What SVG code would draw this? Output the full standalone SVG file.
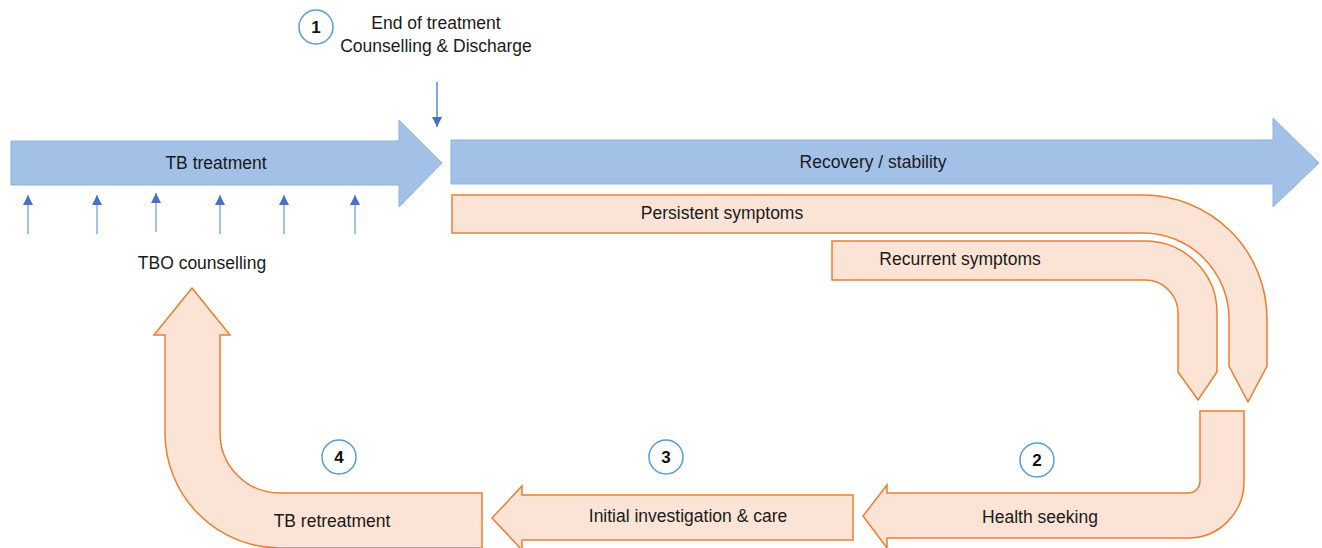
<svg xmlns="http://www.w3.org/2000/svg" width="1322" height="548" viewBox="0 0 1322 548">
<defs>
<marker id="ah" markerUnits="userSpaceOnUse" markerWidth="10" markerHeight="10" refX="10" refY="5" orient="auto"><path d="M0,0 L10,5 L0,10 Z" fill="#4472c4"/></marker>
<style>
.blue{fill:#a3c1e6;stroke:#8db3df;stroke-width:1}
.org{fill:#fbe4d5;stroke:#ed7d31;stroke-width:1.5}
.t{font-family:"Liberation Sans",Arial,sans-serif;font-size:17.5px;fill:#1a1a1a;text-anchor:middle}
.num{font-family:"Liberation Sans",Arial,sans-serif;font-size:17px;font-weight:bold;fill:#111;text-anchor:middle}
.circ{fill:#fff;stroke:#5b9bd5;stroke-width:1.5}
.sa{stroke:#4472c4;stroke-width:1.3;fill:none}
.sa2{stroke:#7a9fd6;stroke-width:1.3;fill:none}
</style>
</defs>
<g id="tb-treatment">
<polygon class="blue" points="11,141 399,141 399,120 442,163 399,207 399,185 11,185"/>
<text class="t" x="216" y="169">TB treatment</text>
</g>
<g id="recovery">
<polygon class="blue" points="451,140 1273,140 1273,118 1319,163 1273,207 1273,184 451,184"/>
<text class="t" x="873" y="168">Recovery / stability</text>
</g>
<g id="persistent">
<path class="org" d="M452,195 L1143,195 A124,124 0 0 1 1267,319 L1267,366 L1248,402 L1229,366 L1229,319 A86,86 0 0 0 1143,233 L452,233 Z"/>
<text class="t" x="722" y="219">Persistent symptoms</text>
</g>
<g id="recurrent">
<path class="org" d="M832,241 L1145,241 A72,72 0 0 1 1217,313 L1217,372 L1198,400 L1178,372 L1178,313 A33,33 0 0 0 1145,280 L832,280 Z"/>
<text class="t" x="960" y="265">Recurrent symptoms</text>
</g>
<g id="health-seeking">
<path class="org" d="M1200,411 L1244,411 L1244,482 A56,56 0 0 1 1188,538 L887,538 L887,548 L863,516 L887,485 L887,493 L1188,493 A12,12 0 0 0 1200,481 Z"/>
<text class="t" x="1040" y="523">Health seeking</text>
</g>
<g id="initial-investigation">
<path class="org" d="M853,495 L522,495 L522,486 L492,518 L522,550 L522,540 L853,540 Z"/>
<text class="t" x="688" y="522">Initial investigation &amp; care</text>
</g>
<g id="tb-retreatment">
<path class="org" d="M482,493 L280,493 A60,60 0 0 1 220,433 L220,335 L230,335 L192,288 L154,335 L165,335 L165,433 A115,115 0 0 0 280,548 L482,548 Z"/>
<text class="t" x="332" y="527">TB retreatment</text>
</g>
<g id="tbo-counselling">
<text class="t" x="202" y="269">TBO counselling</text>
</g>
<g id="end-of-treatment">
<text class="t" x="436" y="29">End of treatment</text>
<text class="t" x="436" y="52">Counselling &amp; Discharge</text>
</g>
<g id="step1"><circle class="circ" cx="316" cy="27" r="17"/><text class="num" x="316" y="33">1</text></g>
<g id="step2"><circle class="circ" cx="1037" cy="460" r="17"/><text class="num" x="1037" y="466">2</text></g>
<g id="step3"><circle class="circ" cx="666" cy="457" r="17"/><text class="num" x="666" y="463">3</text></g>
<g id="step4"><circle class="circ" cx="339" cy="457" r="17"/><text class="num" x="339" y="463">4</text></g>
<g id="connectors">
<line class="sa" x1="437" y1="82" x2="437" y2="127" marker-end="url(#ah)"/>
<line class="sa2" x1="28" y1="234" x2="28" y2="195" marker-end="url(#ah)"/>
<line class="sa2" x1="97" y1="234" x2="97" y2="195" marker-end="url(#ah)"/>
<line class="sa2" x1="156" y1="232" x2="156" y2="193" marker-end="url(#ah)"/>
<line class="sa2" x1="220" y1="234" x2="220" y2="195" marker-end="url(#ah)"/>
<line class="sa2" x1="284" y1="234" x2="284" y2="195" marker-end="url(#ah)"/>
<line class="sa2" x1="355" y1="234" x2="355" y2="195" marker-end="url(#ah)"/>
</g>
</svg>
